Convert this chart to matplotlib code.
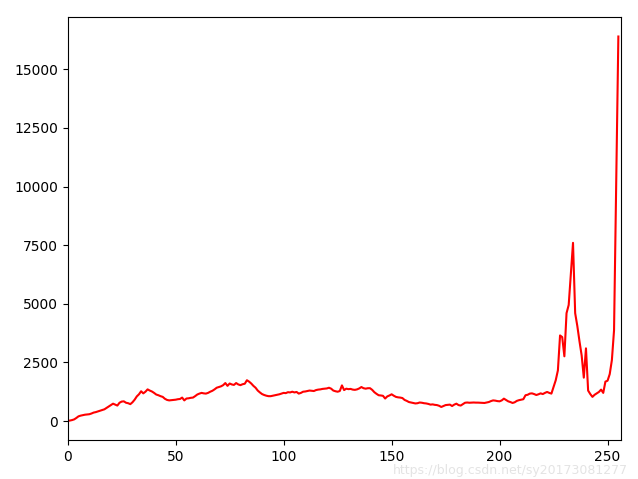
import matplotlib
matplotlib.use("Agg")
import matplotlib.pyplot as plt
import numpy as np

# Histogram counts for intensity levels 0..255
levels = np.arange(256)
counts = [
    10, 20, 40, 70, 130, 200, 230, 250, 270, 280,          # 0-9
    290, 320, 360, 380, 410, 440, 470, 500, 560, 620,      # 10-19
    680, 740, 700, 660, 780, 830, 840, 780, 760, 720,      # 20-29
    800, 910, 1050, 1140, 1270, 1180, 1250, 1350, 1300, 1260,  # 30-39
    1200, 1130, 1100, 1060, 1030, 950, 900, 880, 890, 900,  # 40-49
    910, 930, 940, 1000, 880, 960, 970, 990, 1000, 1060,    # 50-59
    1130, 1170, 1200, 1180, 1170, 1200, 1250, 1290, 1350, 1420,  # 60-69
    1450, 1480, 1530, 1620, 1500, 1600, 1560, 1540, 1620, 1560,  # 70-79
    1530, 1570, 1590, 1740, 1680, 1600, 1500, 1420, 1300, 1220,  # 80-89
    1150, 1110, 1080, 1060, 1060, 1080, 1100, 1120, 1140, 1170,  # 90-99
    1200, 1190, 1230, 1220, 1250, 1220, 1240, 1170, 1200, 1250,  # 100-109
    1260, 1280, 1300, 1290, 1280, 1320, 1340, 1350, 1370, 1380,  # 110-119
    1390, 1420, 1380, 1300, 1270, 1250, 1280, 1520, 1320, 1380,  # 120-129
    1360, 1370, 1340, 1330, 1350, 1390, 1450, 1400, 1380, 1400,  # 130-139
    1400, 1330, 1230, 1160, 1100, 1090, 1075, 960, 1050, 1090,   # 140-149
    1140, 1080, 1030, 1010, 1000, 980, 900, 860, 810, 790,       # 150-159
    770, 750, 760, 790, 780, 760, 750, 730, 700, 710,            # 160-169
    690, 680, 650, 600, 640, 680, 690, 700, 640, 700,            # 170-179
    740, 680, 660, 720, 780, 790, 780, 785, 790, 785,            # 180-189
    785, 780, 775, 770, 790, 810, 850, 880, 870, 850,            # 190-199
    840, 880, 955, 900, 840, 810, 770, 800, 860, 890,            # 200-209
    910, 930, 1100, 1120, 1170, 1180, 1150, 1110, 1140, 1180,    # 210-219
    1150, 1200, 1240, 1200, 1170, 1450, 1740, 2160, 3650, 3580,  # 220-229
    2760, 4600, 4950, 6300, 7600, 4600, 4050, 3400, 2800, 1850,  # 230-239
    3100, 1300, 1150, 1030, 1120, 1180, 1240, 1340, 1200, 1680,  # 240-249
    1720, 2000, 2600, 3870, 10100, 16400,                        # 250-255
]

fig = plt.figure(figsize=(6.38, 4.79), dpi=100)
ax = fig.add_axes([0.1061, 0.0814, 0.8665, 0.8825])
ax.plot(levels, counts, color="red", linewidth=1.5)
ax.set_xlim(0, 256)

fig.text(0.985, 0.004, "https://blog.csdn.net/sy20173081277", ha="right",
         va="bottom", fontsize=9, color="#dddddd", alpha=0.8)

fig.savefig("out.png", dpi=100)
